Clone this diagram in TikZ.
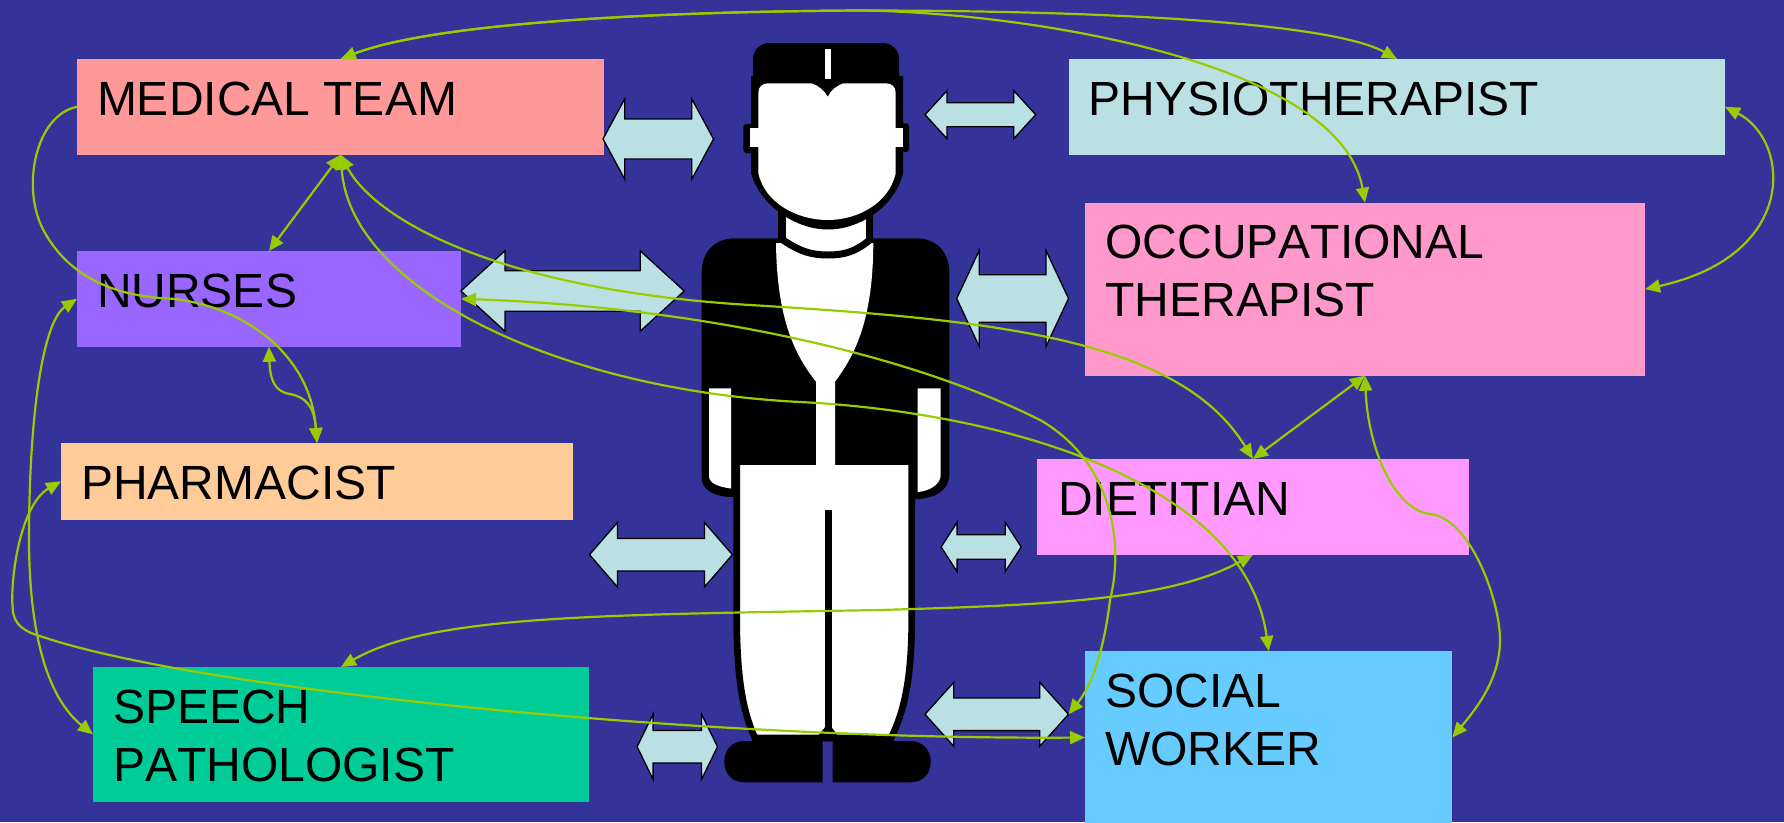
\documentclass[tikz,border=0pt]{standalone}
\usepackage{fontspec}
\setmainfont{Liberation Sans}[Kerning=Off]
\usetikzlibrary{arrows.meta}
\definecolor{bgc}{HTML}{333399}
\definecolor{cmed}{HTML}{FF9999}
\definecolor{cnur}{HTML}{9966FF}
\definecolor{cpha}{HTML}{FFCC99}
\definecolor{cspe}{HTML}{00CC99}
\definecolor{cphy}{HTML}{BBE0E3}
\definecolor{cot}{HTML}{FF99CC}
\definecolor{cdie}{HTML}{FF99FF}
\definecolor{csoc}{HTML}{66CCFF}
\definecolor{grn}{HTML}{99CC00}
\newcommand\dblarr[6]{\filldraw[barrow] (#1,#3) -- (#1+#6,#3-#4) -- (#1+#6,#3-#5) -- (#2-#6,#3-#5) -- (#2-#6,#3-#4) -- (#2,#3) -- (#2-#6,#3+#4) -- (#2-#6,#3+#5) -- (#1+#6,#3+#5) -- (#1+#6,#3+#4) -- cycle;}
\begin{document}
\begin{tikzpicture}[x=1pt,y=-1pt,
  >={Triangle[length=15pt,width=13pt]},
  box/.style={rectangle,inner sep=0pt,outer sep=0pt,anchor=north west},
  lbl/.style={anchor=base west,inner sep=0pt,outer sep=0pt,font=\fontsize{48}{58}\selectfont,text=black},
  conn/.style={draw=grn,line width=2.2pt},
  barrow/.style={fill=cphy,draw=black,line width=1.3pt,line join=miter}]
\useasboundingbox (0,0) rectangle (1784,822);
\clip (0,0) rectangle (1784,822);
\fill[bgc] (0,0) rectangle (1784,822);

% boxes
\node[box,fill=cmed,minimum width=527.4pt,minimum height=95.7pt] (med) at (77,59) {};
\node[box,fill=cnur,minimum width=384pt,minimum height=95.7pt] (nur) at (77,251) {};
\node[box,fill=cpha,minimum width=512pt,minimum height=76.7pt] (pha) at (61,443) {};
\node[box,fill=cspe,minimum width=496pt,minimum height=134.7pt] (spe) at (93,667) {};
\node[box,fill=cphy,minimum width=656pt,minimum height=95.7pt] (phy) at (1069,59) {};
\node[box,fill=cot,minimum width=560pt,minimum height=173pt] (ot) at (1085,202.7) {};
\node[box,fill=cdie,minimum width=431.8pt,minimum height=95.7pt] (die) at (1037,459) {};
\node[box,fill=csoc,minimum width=367.3pt,minimum height=173pt] (soc) at (1085,651) {};

% labels
\node[lbl] (medl) at ([shift={(20,56)}]med.north west) {MEDICAL TEAM};
\node[lbl] (nurl) at ([shift={(20,56)}]nur.north west) {NURSES};
\node[lbl] (phal) at ([shift={(20,56)}]pha.north west) {PHARMACIST};
\node[lbl] (spel) at ([shift={(20,56)}]spe.north west) {SPEECH};
\node[lbl] (spem) at ([shift={(20,114)}]spe.north west) {PATHOLOGIST};
\node[lbl] (phyl) at ([shift={(19.5,56)}]phy.north west) {PHYSIOTHERAPIST};
\node[lbl] (otl) at ([shift={(20.5,56)}]ot.north west) {OCCUPATIONAL};
\node[lbl] (otm) at ([shift={(20.5,114)}]ot.north west) {THERAPIST};
\node[lbl] (diel) at ([shift={(21,56)}]die.north west) {DIETITIAN};
\node[lbl] (socl) at ([shift={(20,56)}]soc.north west) {SOCIAL};
\node[lbl] (socm) at ([shift={(20,114)}]soc.north west) {WORKER};

% person
\fill[black] (735,238.3) -- (916.7,238.3) .. controls (936,238.3) and (949.3,252) .. (949.3,272) -- (949.3,475) .. controls (949.3,490) and (935,499) .. (915,499) -- (733,497) .. controls (715,497) and (701.7,490) .. (701.7,478) -- (701.7,272) .. controls (701.7,252) and (715,238.3) .. (735,238.3) -- cycle;
\fill[white] (709,388.3) -- (731,388.3) -- (731,488.5) .. controls (720,487) and (709,484) .. (709,476) -- cycle;
\fill[white] (917.7,388.3) -- (940.7,388.3) -- (940.7,475) .. controls (940.7,484) and (930,491) .. (917.7,492) -- cycle;
\filldraw[fill=white,draw=black,line width=6.7pt] (736.7,465) -- (736.7,626.7) .. controls (737.5,680) and (743,712) .. (755,738) -- (891,738) .. controls (904,712) and (911,680) .. (911.7,626.7) -- (911.7,465);
\fill[black] (825,510) rectangle (831.7,730);
\fill[black] (814,741) -- (828.3,723) -- (842,741) -- cycle;
\fill[black] (822.7,741) -- (745,741) .. controls (732,741) and (724.3,750) .. (724.3,761.6) .. controls (724.3,774) and (732,782.3) .. (745,782.3) -- (822.7,782.3) -- cycle;
\fill[black] (832.7,741) -- (910,741) .. controls (923,741) and (930.7,750) .. (930.7,761.6) .. controls (930.7,774) and (923,782.3) .. (910,782.3) -- (832.7,782.3) -- cycle;
\fill[black] (778.3,195) rectangle (872.7,246);
\fill[white] (785.7,195) rectangle (865.7,250);
\fill[white] (776,243) -- (873.3,243) .. controls (873,320) and (855,355) .. (835,381.7) -- (835,467) -- (816,467) -- (816,381.7) .. controls (795,355) and (777,320) .. (776,243) -- cycle;
\draw[black,line width=7pt] (780,238) .. controls (800,252) and (812,255) .. (828,255) .. controls (844,255) and (856,252) .. (872,238);
\fill[black,rounded corners=16pt] (753,43) rectangle (899,100);
\fill[black] (751,76) -- (903,76) -- (903,173) .. controls (896,205) and (861,229.5) .. (828,229.5) .. controls (795,229.5) and (760,205) .. (751,173) -- cycle;
\fill[black,rounded corners=3pt] (743.3,124) rectangle (760,153);
\fill[black,rounded corners=3pt] (893,123.3) rectangle (909,152);
\fill[white] (758.3,93) .. controls (758.3,87) and (762,83.3) .. (768,83.3) -- (811.7,83.3) .. controls (818,85.5) and (824,90) .. (827.7,96.7) .. controls (831,90) and (837,85.5) .. (843.3,83.3) -- (886,83.3) .. controls (892,83.3) and (895.7,87) .. (895.7,93) -- (895.7,173.3) .. controls (889,203) and (858,220) .. (827.7,220) .. controls (797,220) and (765,203) .. (758.3,173.3) -- cycle;
\fill[white] (750,128.3) rectangle (760,147);
\fill[white] (893,128.3) rectangle (903.3,147);
\fill[white] (825,49) rectangle (830.7,79);

% block double arrows
\dblarr{603}{713.5}{139}{40.3}{20}{21.8}
\dblarr{925}{1035.7}{114.7}{24}{12}{22}
\dblarr{460.9}{684.2}{291}{40.2}{20.2}{44}
\dblarr{956.7}{1068.5}{298.5}{48}{23.8}{22.5}
\dblarr{589.5}{732.4}{554.7}{32.3}{16.2}{28}
\dblarr{941.1}{1021.2}{547}{24.7}{12.3}{16}
\dblarr{637.1}{717.5}{746.7}{32.7}{16.2}{16}
\dblarr{925}{1068.5}{714.3}{32}{16.3}{28.8}
\coordinate (a8tip) at (1068.5,714.3);

% connectors
\draw[conn,<->] (med.north) .. controls (420,28) and (600,12) .. (860,10.5) .. controls (1100,10.5) and (1330,22) .. (phy.north);
\draw[conn,<->] (med.north) .. controls (420,28) and (600,12) .. (860,10.5) .. controls (1020,12) and (1340,60) .. (ot.north);
\draw[conn,<->] (med.south) -- (nur.north);
\draw[conn,<->] (med.south) .. controls (375,220) and (500,290) .. (750,305) .. controls (1000,320) and (1180,340) .. (die.north);
\draw[conn,<->] (med.south) .. controls (350,290) and (560,390) .. (800,402) .. controls (1000,412) and (1245,480) .. (soc.north);
\draw[conn,->] (med.west) .. controls (35,115) and (20,190) .. (45,233) .. controls (65,268) and (100,293) .. (160,298) .. controls (230,300) and (310,346) .. (pha.north);
\draw[conn,<->] (nur.south) .. controls (270,380) and (275,392) .. (290,394) .. controls (305,397) and (314,405) .. (pha.north);
\draw[conn,<->] (nur.west) .. controls (45,320) and (30,400) .. (29,530) .. controls (28,640) and (50,700) .. (spe.west);
\draw[conn,<->] (pha.west) .. controls (20,505) and (10,580) .. (12.7,608) .. controls (13,625) and (25,632) .. (43,637) .. controls (200,690) and (700,740) .. (soc.west);
\draw[conn,<->] (nur.east) .. controls (650,305) and (880,340) .. (1040,420) .. controls (1110,460) and (1125,540) .. (1110,600) .. controls (1104,650) and (1092,685) .. (a8tip);
\draw[conn,<->] (ot.south) .. controls (1368,450) and (1395,510) .. (1430,514) .. controls (1470,518) and (1500,600) .. (1500,640) .. controls (1500,680) and (1475,710) .. (soc.east);
\draw[conn,<->] (ot.south) -- (die.north);
\draw[conn,<->] (phy.east) .. controls (1790,140) and (1800,255) .. (ot.east);
\draw[conn,<->] (die.south) .. controls (1170,600) and (1050,605) .. (880,610) .. controls (600,615) and (430,615) .. (spe.north);
\end{tikzpicture}
\end{document}
